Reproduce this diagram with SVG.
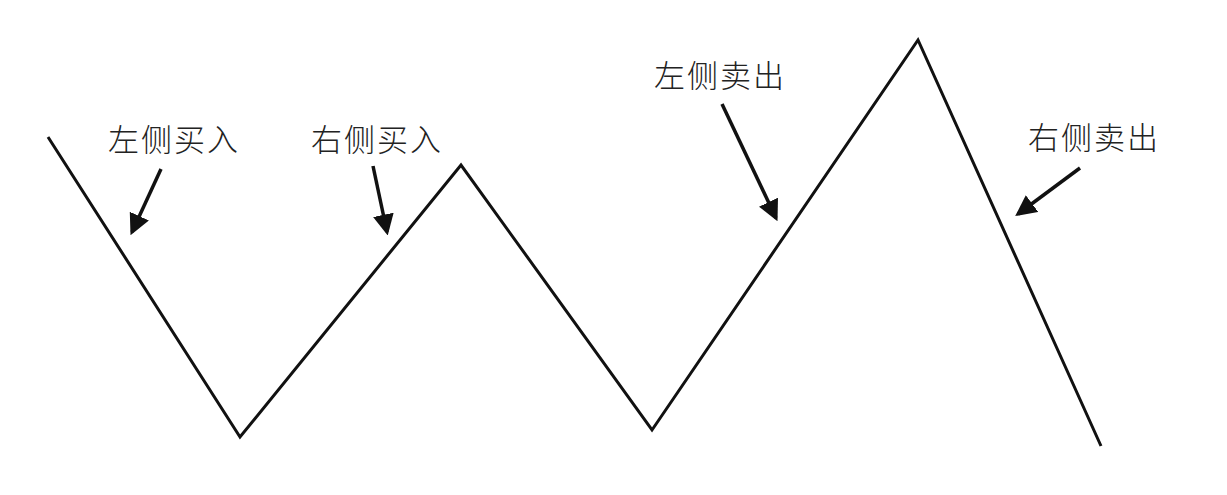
<svg xmlns="http://www.w3.org/2000/svg" width="1227" height="495" viewBox="0 0 1227 495">
<style>
.t{font-family:"Noto Sans CJK SC","Noto Sans",sans-serif;font-size:31px;font-weight:300;fill:#222;letter-spacing:2px}
.c{stroke:#111;stroke-width:3;fill:none}
.a{stroke:#111;stroke-width:3.5;fill:none;marker-end:url(#ah)}
</style>
<defs>
<marker id="ah" markerWidth="6" markerHeight="6" refX="5" refY="3" orient="auto" markerUnits="strokeWidth">
<path d="M0,0 L6,3 L0,6 Z" fill="#111"/>
</marker>
</defs>
<rect width="1227" height="495" fill="#fff"/>
<g id="connectors">
<polyline class="c" points="48,137 240,437 461,165 652,430 918,40 1101,446"/>
<line id="a1" class="a" x1="161" y1="169" x2="132" y2="232"/>
<line id="a2" class="a" x1="373" y1="166" x2="387" y2="232"/>
<line id="a3" class="a" x1="722" y1="104" x2="776" y2="218"/>
<line id="a4" class="a" x1="1080" y1="168" x2="1018" y2="214"/>
</g>
<g id="n1"><text class="t" x="108" y="151">左侧买入</text></g>
<g id="n2"><text class="t" x="311" y="151">右侧买入</text></g>
<g id="n3"><text class="t" x="654" y="87">左侧卖出</text></g>
<g id="n4"><text class="t" x="1028" y="149">右侧卖出</text></g>
</svg>
